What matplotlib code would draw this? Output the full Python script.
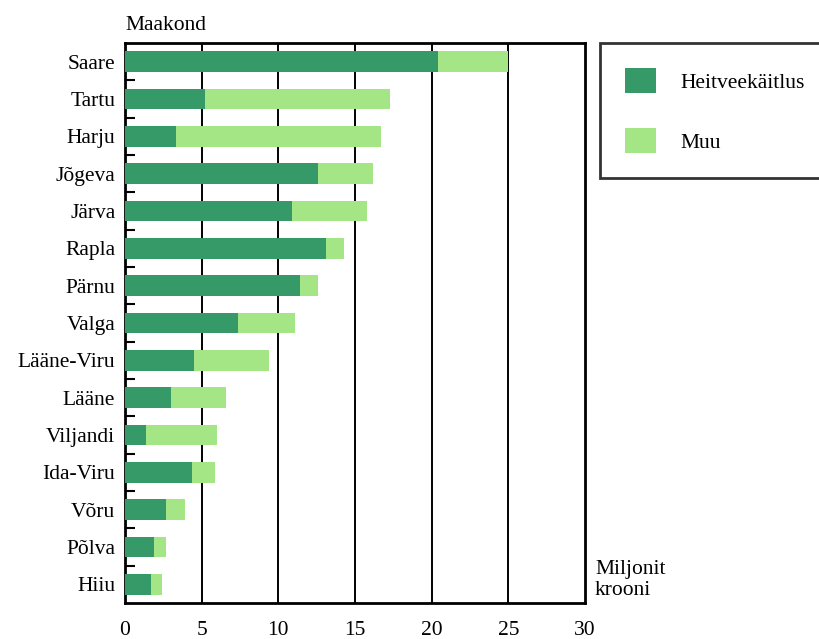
import matplotlib
matplotlib.use("Agg")
import matplotlib.pyplot as plt
from matplotlib.patches import Patch

counties = ["Saare", "Tartu", "Harju", "Jõgeva", "Järva", "Rapla", "Pärnu", "Valga",
            "Lääne-Viru", "Lääne", "Viljandi", "Ida-Viru", "Võru", "Põlva", "Hiiu"]
heitvee = [20.4, 5.2, 3.3, 12.6, 10.9, 13.1, 11.4, 7.4, 4.5, 3.0, 1.4, 4.4, 2.7, 1.9, 1.7]
muu = [4.6, 12.1, 13.4, 3.6, 4.9, 1.2, 1.2, 3.7, 4.9, 3.6, 4.6, 1.5, 1.2, 0.8, 0.7]
xticks = [0, 5, 10, 15, 20, 25, 30]

dark = "#359A68"
light = "#A4E586"

plt.rcParams["font.family"] = ["Liberation Serif", "DejaVu Serif"]
plt.rcParams["font.size"] = 15.5

fig = plt.figure(figsize=(8.2, 6.39), dpi=100)
ax = fig.add_axes([125/820, 1-603/639, 460/820, 560/639])

y = list(range(len(counties)))
ax.barh(y, heitvee, height=0.56, color=dark, zorder=3)
ax.barh(y, muu, left=heitvee, height=0.56, color=light, zorder=3)

ax.set_xlim(0, 30)
ax.set_ylim(len(counties) - 0.5, -0.5)
ax.set_xticks(xticks)
ax.set_xticklabels([str(v) for v in xticks])
ax.tick_params(axis="x", length=0, pad=13)
ax.set_yticks(y)
ax.set_yticklabels(counties)
ax.tick_params(axis="y", which="major", length=0, pad=7)
ax.set_yticks([i + 0.5 for i in y[:-1]], minor=True)
ax.tick_params(axis="y", which="minor", direction="in", length=7, width=1.5, color="black")

for v in xticks[1:-1]:
    ax.axvline(v, color="black", lw=1.4, zorder=1)

for s in ax.spines.values():
    s.set_linewidth(2)
    s.set_color("black")

fig.text(125/820, 1-25/639, "Maakond", ha="left", va="center")
fig.text(595/820, 1-580/639, "Miljonit\nkrooni", ha="left", va="center", linespacing=1.15)

handles = [Patch(facecolor=dark, label="Heitveekäitlus"), Patch(facecolor=light, label="Muu")]
leg = fig.legend(handles=handles, loc="upper left", bbox_to_anchor=(600/820, 1-43/639),
                 frameon=True, fancybox=False, edgecolor="black", borderpad=1.15,
                 handlelength=1.45, handleheight=1.45, handletextpad=1.15, labelspacing=1.6,
                 borderaxespad=0)
leg.get_frame().set_linewidth(2)

fig.savefig("out.png", dpi=100)
